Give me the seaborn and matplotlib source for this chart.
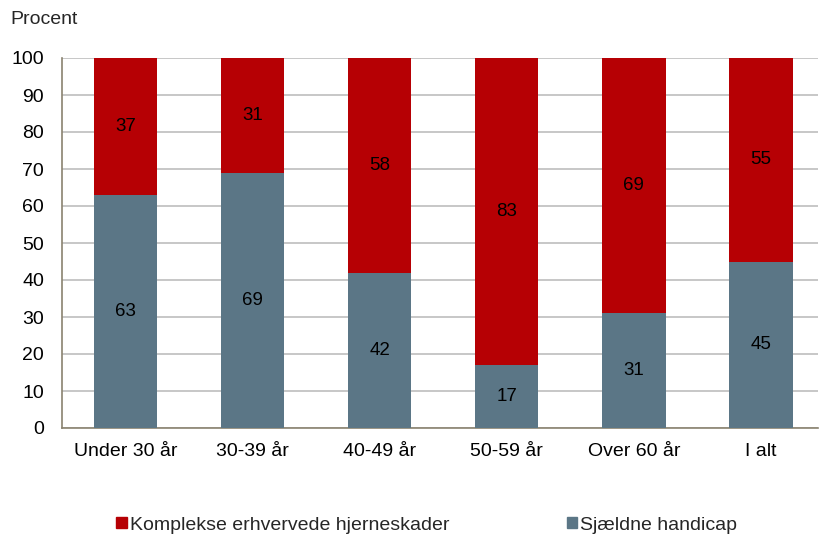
import pandas as pd
import matplotlib.pyplot as plt
import seaborn as sns
from matplotlib.patches import Patch

categories = ['Under 30 år', '30-39 år', '40-49 år', '50-59 år', 'Over 60 år', 'I alt']
sjaeldne = [63, 69, 42, 17, 31, 45]
komplekse = [37, 31, 58, 83, 69, 55]

red = '#B60004'
blue = '#5B7686'

df = pd.DataFrame({'cat': categories, 'sj': sjaeldne, 'ko': komplekse})
df['total'] = df['sj'] + df['ko']

sns.set_style('white')
plt.rcParams['font.family'] = ['Liberation Sans', 'DejaVu Sans']

fig = plt.figure(figsize=(8.19, 5.38), dpi=100)
ax = fig.add_axes([62 / 819, 1 - 428 / 538, (818 - 62) / 819, (428 - 58) / 538])

# red bar for the full height, blue drawn over it for the lower part
sns.barplot(data=df, x='cat', y='total', color=red, width=0.5, ax=ax, saturation=1,
            linewidth=0, edgecolor='none', zorder=2)
sns.barplot(data=df, x='cat', y='sj', color=blue, width=0.5, ax=ax, saturation=1,
            linewidth=0, edgecolor='none', zorder=3)

for i, (s, k) in enumerate(zip(sjaeldne, komplekse)):
    ax.text(i, s / 2, str(s), ha='center', va='center', fontsize=13.5, color='black', zorder=4)
    ax.text(i, s + k / 2, str(k), ha='center', va='center', fontsize=13.5, color='black', zorder=4)

ax.set_ylim(0, 100)
ax.set_xlim(-0.5, 5.45)
ax.set_yticks(range(0, 101, 10))
ax.yaxis.grid(True, color='#BEBEBE', linewidth=1.2, zorder=0)
ax.set_axisbelow(True)
ax.set_xlabel('')
ax.set_ylabel('')
ax.tick_params(axis='both', labelsize=14, length=0, colors='black')
ax.tick_params(axis='x', pad=11)
ax.tick_params(axis='y', pad=13)
for side in ['top', 'right']:
    ax.spines[side].set_visible(False)
for side in ['left', 'bottom']:
    ax.spines[side].set_color('#8A8370')
    ax.spines[side].set_linewidth(1.2)

fig.text(10 / 819, 1 - 20 / 538, 'Procent', fontsize=14, va='center', ha='left')

handles = [Patch(color=red, label='Komplekse erhvervede hjerneskader'),
           Patch(color=blue, label='Sjældne handicap')]
fig.legend(handles=handles, loc='center left', bbox_to_anchor=(116 / 819, 1 - 525 / 538), ncol=2,
           frameon=False, fontsize=14, handlelength=0.55, handleheight=0.55,
           handletextpad=0.15, columnspacing=6.05, borderpad=0, borderaxespad=0)

fig.savefig('out.png', dpi=100)
